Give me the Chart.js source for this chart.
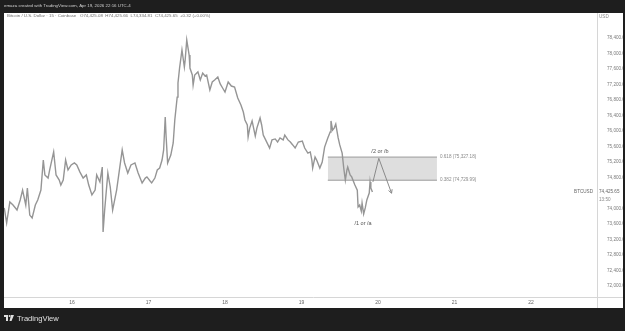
<!DOCTYPE html>
<html>
<head>
    <title>BTCUSD 15m</title>
    <meta charset="UTF-8">
    <script src="https://cdn.jsdelivr.net/npm/chart.js"></script>
    <style>
        html, body { margin: 0; padding: 0; background: #1e1e1e; overflow: hidden; }
        canvas { display: block; }
    </style>
</head>
<body>
    <canvas id="btcChart" width="625" height="331"></canvas>

    <script>
        // hours since Apr 16 00:00 (15 minute bars, sampled)
        const hours = [
            -21.25, -20.5, -19.5, -18.5, -17.25, -16.25, -15.5, -14.5, -14, -13.25,
            -12.5, -11.5, -10.75, -9.75, -9, -8.5, -7.5, -7, -5.75, -5,
            -4, -3.5, -2.75, -2, -1.25, -0.25, 0.75, 1.5, 2.5, 3.5,
            4.5, 5.25, 6.25, 7.25, 7.75, 8.75, 9.5, 9.75, 10.25, 11.25,
            12, 12.75, 14, 15, 15.75, 16.5, 17.5, 18.5, 19.75, 20.75,
            22, 23, 23.5, 24.5, 25, 26, 26.75, 27.5, 28.25, 28.75,
            29.25, 29.5, 30, 31, 31.75, 32.25, 33, 33.25, 33.75, 34.5,
            35.25, 35.5, 36, 36.75, 37, 37.75, 38, 38.5, 39.5, 40.25,
            41, 41.75, 42.25, 43.25, 44, 44.75, 45.75, 46.5, 47.25, 48,
            49, 50, 51, 52, 53, 53.75, 54.25, 55, 55.25, 55.75,
            56.5, 57.5, 58, 59, 59.5, 60, 60.75, 62, 62.75, 63.75,
            64.5, 65.25, 66.25, 66.75, 67.75, 68.5, 69.25, 70, 71, 72.25,
            73, 74, 74.75, 75.25, 75.5, 76.25, 76.75, 77.75, 78.5, 79.25,
            80.25, 81, 81.25, 81.75, 82.25, 82.75, 83.5, 84, 84.75, 85.25,
            85.75, 86.25, 86.5, 87.25, 87.75, 88.25, 88.75, 89.5, 89.75, 90.25,
            90.75, 91, 91.5, 92, 92.5, 93.25, 93.5, 93.75, 94.25
        ];
        const closes = [
            74015, 73625, 74170, 74090, 73960, 74220, 74475, 74090, 74530, 73830,
            73755, 74090, 74220, 74475, 75250, 74865, 74785, 74995, 75460, 74865,
            74735, 74605, 74735, 75250, 74995, 75125, 75175, 75125, 74940, 74785,
            74865, 74605, 74350, 74475, 74865, 74685, 75070, 73395, 73960, 74915,
            74555, 73960, 74475, 75070, 75510, 75175, 74915, 75125, 75175, 74915,
            74660, 74785, 74815, 74710, 74660, 74785, 74995, 75045, 75250, 75510,
            76360, 75895, 75175, 75380, 75690, 76285, 76875, 77240, 77625, 78090,
            77650, 77830, 78350, 77960, 77625, 77445, 77185, 77445, 77525, 77315,
            77495, 77420, 77445, 77060, 77265, 77315, 77395, 77215, 77110, 77005,
            77265, 77160, 77135, 76850, 76670, 76490, 76285, 76155, 75845, 76075,
            76260, 75870, 76075, 76335, 76155, 75895, 75770, 75560, 75770, 75795,
            75715, 75820, 75770, 75895, 75770, 75715, 75640, 75560, 75715, 75740,
            75560, 75430, 75460, 75250, 75045, 75330, 75250, 75045, 75200, 75585,
            75820, 75975, 76260, 76025, 76075, 76180, 75820, 75640, 75430, 75045,
            74735, 74995, 75070, 74865, 74815, 74710, 74605, 74475, 74040, 74090,
            73935, 74140, 73860, 74015, 74220, 74400, 74685, 74530, 74425.65
        ];

        const dayTicks = [0, 24, 48, 72, 96, 120, 144];
        const dayLabels = ['16', '17', '18', '19', '20', '21', '22'];
        const priceTicks = [72000, 72400, 72800, 73200, 73600, 74000, 74800, 75200,
            75600, 76000, 76400, 76800, 77200, 77600, 78000, 78400];

        // fib retracement zone
        const fibLevels = ['0.618', '0.382'];
        const fibPrices = [75327.18, 74729.99];
        const zoneHours = [80.25, 114.5];

        // projected path and wave labels
        const projHours = [94.4, 96.25, 100.25];
        const projPrices = [74685, 75295, 74395];
        const waveLabels = ['/2 or /b', '/1 or /a'];
        const waveHours = [96.6, 91.3];
        const wavePrices = [75470, 73620];

        const lastPrice = 74425.65;

        const fmt = v => v.toLocaleString('en-US', { minimumFractionDigits: 2, maximumFractionDigits: 2 });
        const FONT = '"Liberation Sans", Arial, sans-serif';

        const framePlugin = {
            id: 'tvFrame',
            beforeDraw(chart) {
                const c = chart.ctx;
                c.save();
                c.fillStyle = '#1e1e1e';
                c.fillRect(0, 0, 625, 331);
                c.fillStyle = '#ffffff';
                c.fillRect(4, 13, 619, 295);
                c.restore();
            },
            afterDraw(chart) {
                const c = chart.ctx;
                const xs = chart.scales.x, ys = chart.scales.y;
                const area = chart.chartArea;
                c.save();

                // axis separators
                c.strokeStyle = '#d6d6d6';
                c.lineWidth = 1;
                c.beginPath();
                c.moveTo(area.right + 0.5, 13);
                c.lineTo(area.right + 0.5, 308);
                c.moveTo(4, area.bottom + 0.5);
                c.lineTo(623, area.bottom + 0.5);
                c.stroke();

                // day labels on the time axis
                c.fillStyle = '#666666';
                c.font = '5px ' + FONT;
                c.textAlign = 'center';
                c.textBaseline = 'middle';
                xs.ticks.forEach((t, i) => {
                    c.fillText(dayLabels[dayTicks.indexOf(t.value)], xs.getPixelForTick(i), 303);
                });

                // arrow head on projection
                const ex = xs.getPixelForValue(projHours[2]), ey = ys.getPixelForValue(projPrices[2]);
                const sx = xs.getPixelForValue(projHours[1]), sy = ys.getPixelForValue(projPrices[1]);
                const ang = Math.atan2(ey - sy, ex - sx);
                c.strokeStyle = '#8a8a8a';
                c.beginPath();
                c.moveTo(ex - 4 * Math.cos(ang - 0.5), ey - 4 * Math.sin(ang - 0.5));
                c.lineTo(ex, ey);
                c.lineTo(ex - 4 * Math.cos(ang + 0.5), ey - 4 * Math.sin(ang + 0.5));
                c.stroke();

                // fib labels
                c.fillStyle = '#8a8a8a';
                c.font = '4.6px ' + FONT;
                c.textAlign = 'left';
                const zx = xs.getPixelForValue(zoneHours[1]) + 3;
                fibLevels.forEach((lv, i) => {
                    c.fillText(lv + ' (' + fmt(fibPrices[i]) + ')', zx, ys.getPixelForValue(fibPrices[i]));
                });

                // wave labels
                c.fillStyle = '#555555';
                c.font = '5.5px ' + FONT;
                c.textAlign = 'center';
                waveLabels.forEach((t, i) => {
                    c.fillText(t, xs.getPixelForValue(waveHours[i]), ys.getPixelForValue(wavePrices[i]));
                });

                // last price
                const ly = ys.getPixelForValue(lastPrice);
                c.font = '4.6px ' + FONT;
                c.fillStyle = '#666666';
                c.textAlign = 'right';
                c.fillText('BTCUSD', area.right - 4, ly);
                c.textAlign = 'left';
                c.fillText(fmt(lastPrice), area.right + 2, ly);
                c.fillStyle = '#888888';
                c.fillText('13:50', area.right + 2, ly + 8);
                c.fillText('USD', area.right + 2, 17);

                // header + legend
                c.font = '4.4px ' + FONT;
                c.fillStyle = '#d0d0d0';
                c.fillText('emaza created with TradingView.com, Apr 19, 2026 22:16 UTC-4', 4, 6);
                c.fillStyle = '#6e6e6e';
                c.fillText('Bitcoin / U.S. Dollar \u00b7 15 \u00b7 Coinbase   O74,425.08  H74,425.66  L74,334.81  C74,425.65  +0.32 (+0.00%)', 7, 16);

                // footer logo
                c.fillStyle = '#e0e0e0';
                c.fillRect(4, 315, 4, 2);
                c.fillRect(6, 315, 2, 6);
                c.beginPath();
                c.arc(9.6, 316, 1, 0, Math.PI * 2);
                c.fill();
                c.beginPath();
                c.moveTo(11, 315);
                c.lineTo(14, 315);
                c.lineTo(11.5, 321);
                c.lineTo(9.5, 321);
                c.closePath();
                c.fill();
                c.font = '7.6px ' + FONT;
                c.fillText('TradingView', 17, 318.5);
                c.restore();
            }
        };

        const ctx = document.getElementById('btcChart').getContext('2d');
        new Chart(ctx, {
            type: 'line',
            data: {
                datasets: [
                    {
                        label: 'BTCUSD',
                        data: hours.map((h, i) => ({ x: h, y: closes[i] })),
                        borderColor: '#959595',
                        borderWidth: 1.4,
                        pointRadius: 0,
                        tension: 0,
                        order: 0
                    },
                    {
                        label: 'projection',
                        data: projHours.map((h, i) => ({ x: h, y: projPrices[i] })),
                        borderColor: '#8a8a8a',
                        borderWidth: 1,
                        pointRadius: 0,
                        order: 1
                    },
                    {
                        label: 'fib top',
                        data: zoneHours.map(h => ({ x: h, y: fibPrices[0] })),
                        borderColor: '#9a9a9a',
                        borderWidth: 1,
                        pointRadius: 0,
                        fill: '+1',
                        backgroundColor: 'rgba(160,160,160,0.35)',
                        order: 2
                    },
                    {
                        label: 'fib bottom',
                        data: zoneHours.map(h => ({ x: h, y: fibPrices[1] })),
                        borderColor: '#9a9a9a',
                        borderWidth: 1,
                        pointRadius: 0,
                        fill: false,
                        order: 3
                    }
                ]
            },
            options: {
                responsive: false,
                animation: false,
                events: [],
                layout: { padding: { top: 13, left: 4, right: 2, bottom: 23 } },
                plugins: { legend: { display: false }, tooltip: { enabled: false } },
                scales: {
                    x: {
                        type: 'linear',
                        min: -21.33,
                        max: 164.7,
                        grid: { display: false },
                        border: { display: false },
                        afterBuildTicks: s => { s.ticks = dayTicks.map(v => ({ value: v })); },
                        afterFit: s => { s.height = 11; },
                        ticks: { display: false }
                    },
                    y: {
                        position: 'right',
                        min: 71716,
                        max: 79045,
                        grid: { display: false },
                        border: { display: false },
                        afterBuildTicks: s => { s.ticks = priceTicks.map(v => ({ value: v })); },
                        afterFit: s => { s.width = 26; },
                        ticks: {
                            padding: 2,
                            color: '#7a7a7a',
                            font: { size: 4.6, family: FONT },
                            callback: v => fmt(v)
                        }
                    }
                }
            },
            plugins: [framePlugin]
        });
    </script>
</body>
</html>
